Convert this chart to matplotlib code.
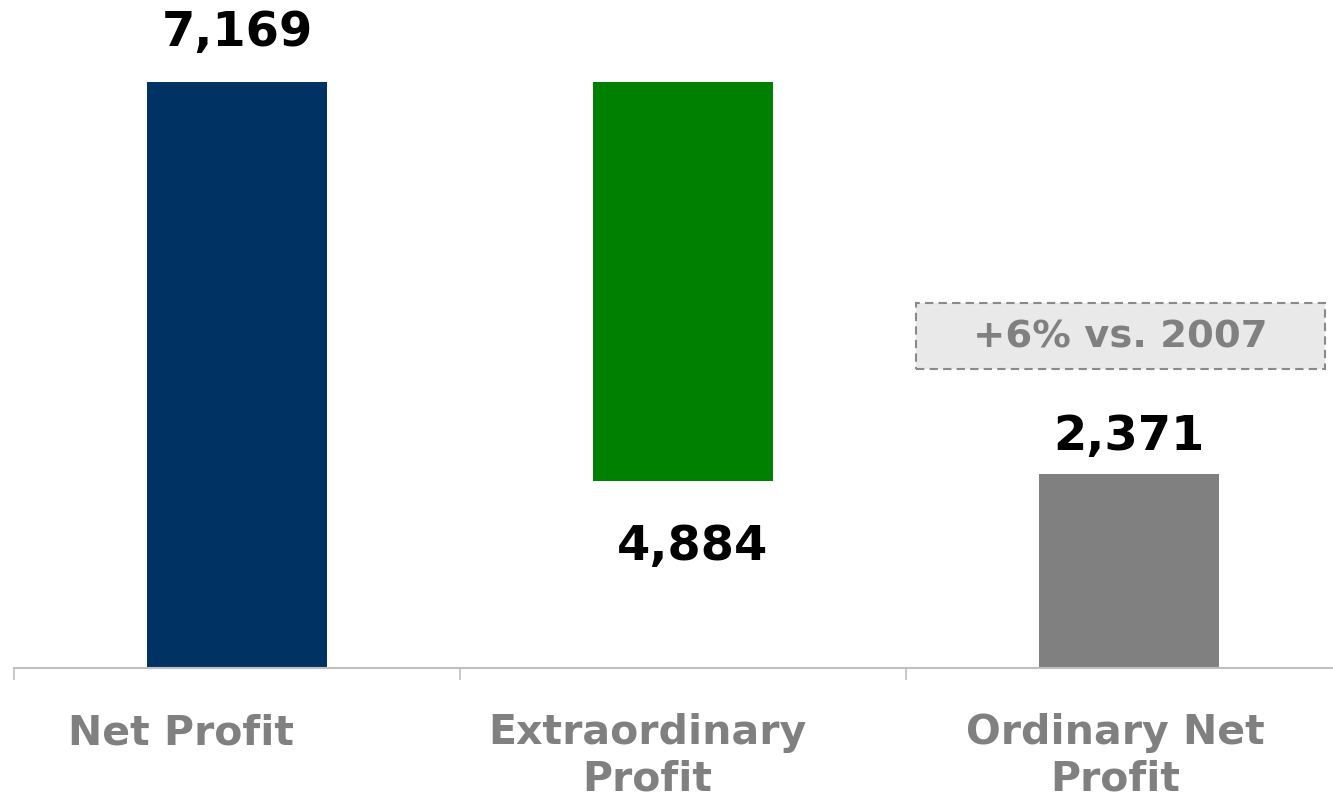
import matplotlib
matplotlib.use("Agg")
import matplotlib.pyplot as plt
import matplotlib.patches as mpatches

# data
categories = ["Net Profit", "Extraordinary\nProfit", "Ordinary Net\nProfit"]
values = [7169, 4884, 2371]
value_labels = ["7,169", "4,884", "2,371"]
colors = ["#003363", "#008000", "#808080"]
note = "+6% vs. 2007"

# waterfall: extraordinary bar hangs from the net profit top
bottoms = [0, values[0] - values[1], 0]

plt.rcParams["font.family"] = ["DejaVu Sans"]
fig = plt.figure(figsize=(13.33, 8.01), dpi=100)
W, H = 1333, 801
ax = fig.add_axes([14 / W, (H - 668) / H, 1338 / W, 668 / H])

x = range(len(categories))
ax.bar(x, values, bottom=bottoms, width=0.404, color=colors, zorder=2)

ymax = values[0] * 668 / 586
ax.set_xlim(-0.5, 2.5)
ax.set_ylim(0, ymax)

# value labels
lab_kw = dict(ha="center", va="center", fontsize=34.5, fontweight="bold", color="black")
ax.text(0, values[0] + ymax * 0.0745, value_labels[0], **lab_kw)
ax.annotate(value_labels[1], xy=(1, bottoms[1] - ymax * 0.098), xytext=(7, 0),
            textcoords="offset points", **lab_kw)
ax.text(2, values[2] + ymax * 0.056, value_labels[2], **lab_kw)

# axes styling
for s in ["top", "right", "left"]:
    ax.spines[s].set_visible(False)
ax.spines["bottom"].set_color("#bfbfbf")
ax.spines["bottom"].set_linewidth(1.5)
ax.set_yticks([])
ax.set_xticks([])
ax.set_xticks([-0.5, 0.5, 1.5, 2.5], minor=True)
ax.tick_params(axis="x", which="minor", length=8.5, width=1.2, color="#bfbfbf",
               labelbottom=False)

# category labels (sit a little left of the bars, as in the original)
shifts = [-40, -26, -10]
for i, c in enumerate(categories):
    ax.annotate(c, xy=(i, 0), xytext=(shifts[i], -32.5), textcoords="offset points",
                ha="center", va="top", fontsize=29.5, fontweight="bold",
                color="#808080", linespacing=1.2, annotation_clip=False)

# note box
box = mpatches.Rectangle((916 / W, (H - 369) / H), 409 / W, 66 / H,
                         transform=fig.transFigure, facecolor="#e9e9e9",
                         edgecolor="#8a8a8a", linestyle=(0, (4, 2.5)),
                         linewidth=1.5)
fig.patches.append(box)
fig.text(1120 / W, (H - 337) / H, note, ha="center", va="center",
         fontsize=27.7, fontweight="bold", color="#808080")

fig.savefig("out.png", dpi=100)
